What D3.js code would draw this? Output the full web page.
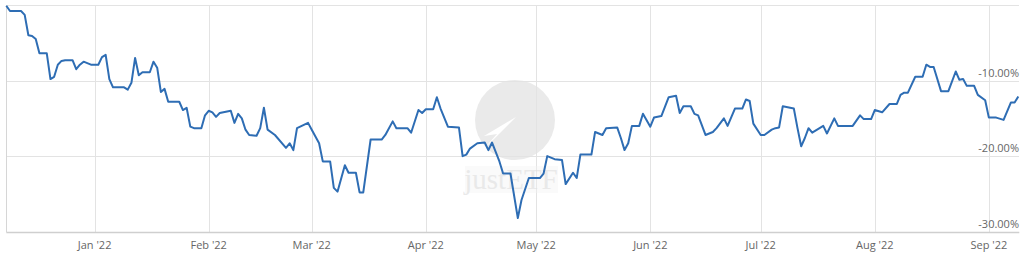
<!DOCTYPE html>
<html lang="en">
<head>
  <meta charset="utf-8">
  <title>Performance chart</title>
  <style>
  body { margin: 0; background: #fff; }
  svg { display: block; font-family: "Open Sans", sans-serif; }
  .grid line { stroke: #e3e3e3; stroke-width: 1; shape-rendering: crispEdges; }
  .axis text { fill: #666; font-size: 11px; }
  .line { fill: none; stroke: #2e6db4; stroke-width: 2; stroke-linejoin: round; }
  </style>
  <script src="https://cdn.jsdelivr.net/npm/d3@7"></script>
</head>
<body>
<svg width="1024" height="262"></svg>
<script>
// dates of the line vertices and the matching returns in %
var dates = [
  "2021-12-08","2021-12-09","2021-12-12","2021-12-13","2021-12-14","2021-12-15","2021-12-16","2021-12-17",
  "2021-12-19","2021-12-20","2021-12-21","2021-12-22","2021-12-23","2021-12-24","2021-12-26","2021-12-27",
  "2021-12-28","2021-12-29","2021-12-30","2021-12-31","2022-01-02","2022-01-03","2022-01-04","2022-01-05",
  "2022-01-06","2022-01-09","2022-01-10","2022-01-11","2022-01-12","2022-01-13","2022-01-14","2022-01-16",
  "2022-01-17","2022-01-18","2022-01-19","2022-01-20","2022-01-21","2022-01-24","2022-01-25","2022-01-26",
  "2022-01-27","2022-01-28","2022-01-30","2022-01-31","2022-02-01","2022-02-02","2022-02-03","2022-02-04",
  "2022-02-07","2022-02-08","2022-02-09","2022-02-10","2022-02-11","2022-02-12","2022-02-14","2022-02-15",
  "2022-02-16","2022-02-17","2022-02-19","2022-02-22","2022-02-23","2022-02-24","2022-02-25","2022-02-28",
  "2022-03-01","2022-03-03","2022-03-04","2022-03-06","2022-03-07","2022-03-08","2022-03-10","2022-03-11",
  "2022-03-13","2022-03-14","2022-03-15","2022-03-17","2022-03-20","2022-03-21","2022-03-23","2022-03-24",
  "2022-03-27","2022-03-28","2022-03-30","2022-03-31","2022-04-01","2022-04-03","2022-04-04","2022-04-05",
  "2022-04-07","2022-04-10","2022-04-11","2022-04-12","2022-04-13","2022-04-15","2022-04-17","2022-04-18",
  "2022-04-19","2022-04-21","2022-04-22","2022-04-24","2022-04-26","2022-04-27","2022-04-29","2022-05-02",
  "2022-05-03","2022-05-04","2022-05-06","2022-05-08","2022-05-09","2022-05-11","2022-05-12","2022-05-13",
  "2022-05-16","2022-05-17","2022-05-19","2022-05-20","2022-05-23","2022-05-24","2022-05-25","2022-05-26",
  "2022-05-27","2022-05-29","2022-05-30","2022-06-01","2022-06-02","2022-06-04","2022-06-06","2022-06-08",
  "2022-06-09","2022-06-10","2022-06-12","2022-06-13","2022-06-14","2022-06-16","2022-06-18","2022-06-19",
  "2022-06-21","2022-06-22","2022-06-24","2022-06-26","2022-06-27","2022-06-28","2022-06-29","2022-07-01",
  "2022-07-02","2022-07-04","2022-07-05","2022-07-06","2022-07-07","2022-07-08","2022-07-10","2022-07-11",
  "2022-07-12","2022-07-13","2022-07-14","2022-07-15","2022-07-18","2022-07-19","2022-07-21","2022-07-22",
  "2022-07-26","2022-07-28","2022-07-29","2022-07-31","2022-08-01","2022-08-03","2022-08-05","2022-08-07",
  "2022-08-08","2022-08-09","2022-08-10","2022-08-12","2022-08-14","2022-08-15","2022-08-16","2022-08-17",
  "2022-08-19","2022-08-21","2022-08-23","2022-08-24","2022-08-25","2022-08-26","2022-08-28","2022-08-29",
  "2022-08-31","2022-09-01","2022-09-03","2022-09-05","2022-09-07","2022-09-08","2022-09-09"
];

var returns = [
  -0.1,-0.8,-0.8,-1.3,-4.0,-4.1,-4.5,-6.4,
  -6.4,-9.8,-9.5,-7.9,-7.4,-7.3,-7.3,-8.5,
  -7.9,-7.5,-7.7,-7.9,-7.9,-6.9,-6.6,-9.8,
  -10.9,-10.9,-11.2,-10.3,-7.0,-9.3,-8.9,-8.9,
  -7.5,-8.3,-11.5,-11.1,-12.8,-12.8,-13.9,-13.6,
  -16.1,-16.3,-16.3,-14.6,-14.0,-14.2,-14.8,-14.3,
  -14.0,-15.6,-14.4,-15.0,-16.5,-17.2,-17.3,-16.3,
  -13.6,-16.5,-17.2,-18.9,-18.3,-19.2,-16.3,-15.6,
  -16.5,-18.3,-20.7,-20.7,-24.2,-24.7,-21.2,-22.2,
  -22.2,-24.8,-24.8,-17.8,-17.8,-17.2,-15.4,-16.3,
  -16.3,-16.9,-13.9,-14.3,-13.8,-13.8,-12.2,-13.7,
  -16.1,-16.2,-20.0,-19.8,-19.0,-18.3,-18.2,-19.2,
  -18.2,-20.7,-22.3,-22.3,-28.2,-25.8,-22.9,-22.9,
  -22.3,-20.0,-20.4,-20.5,-23.7,-22.2,-22.9,-19.8,
  -19.8,-16.8,-17.2,-16.3,-16.2,-17.6,-19.2,-18.3,
  -16.0,-16.0,-14.4,-16.1,-14.9,-14.7,-12.2,-12.0,
  -14.3,-13.4,-13.4,-14.4,-14.6,-17.2,-16.8,-16.3,
  -15.0,-16.0,-13.7,-13.7,-12.5,-12.7,-15.7,-17.2,
  -17.2,-16.5,-16.3,-16.2,-13.4,-13.5,-13.7,-16.3,
  -18.7,-17.6,-16.3,-16.9,-16.0,-17.0,-15.0,-16.0,
  -16.0,-14.6,-15.1,-15.1,-13.9,-14.2,-13.1,-13.1,
  -11.9,-11.6,-11.6,-9.5,-9.5,-7.9,-8.2,-8.2,
  -11.4,-11.4,-8.8,-9.9,-9.8,-10.7,-10.7,-11.9,
  -12.6,-14.9,-14.9,-15.2,-12.9,-12.9,-12.1
];

var monthTicks = ["2022-01-01","2022-02-01","2022-03-01","2022-04-01","2022-05-01","2022-06-01",
                  "2022-07-01","2022-08-01","2022-09-01"];
var gridValues = [0, -10, -20];
var yLabels = [-10, -20, -30];

var parse = d3.timeParse("%Y-%m-%d");
var data = dates.map(function(d, i) { return {date: parse(d), value: returns[i]}; });

var svg = d3.select("svg"),
    plot = {left: 6.3, right: 1018.3, top: 5, bottom: 231.7};

var x = d3.scaleTime()
    .domain([parse("2021-12-08"), parse("2022-09-09")])
    .range([plot.left, plot.right]);

var y = d3.scaleLinear()
    .domain([0, -30])
    .range([plot.top, plot.bottom]);

// grid
var grid = svg.append("g").attr("class", "grid");

grid.selectAll(".h")
  .data(gridValues)
  .enter().append("line")
    .attr("x1", plot.left).attr("x2", plot.right + 1)
    .attr("y1", function(d) { return Math.round(y(d)) + 0.5; })
    .attr("y2", function(d) { return Math.round(y(d)) + 0.5; });

grid.selectAll(".v")
  .data(monthTicks.map(parse))
  .enter().append("line")
    .attr("x1", function(d) { return Math.round(x(d)) + 0.5; })
    .attr("x2", function(d) { return Math.round(x(d)) + 0.5; })
    .attr("y1", plot.top).attr("y2", plot.bottom);

grid.append("line")
    .attr("x1", Math.round(plot.left) + 0.5).attr("x2", Math.round(plot.left) + 0.5)
    .attr("y1", plot.top).attr("y2", plot.bottom)
    .style("stroke", "#d6d6d6");

// watermark
var wm = svg.append("g").attr("opacity", 0.75);
wm.append("circle")
    .attr("cx", 515).attr("cy", 120).attr("r", 40)
    .attr("fill", "#e4e4e4");
wm.append("path")
    .attr("d", "M516,117 L484,136 L497,134 L481,152 Z")
    .attr("fill", "#fff");
wm.append("rect")
    .attr("x", 465).attr("y", 166).attr("width", 93).attr("height", 27)
    .attr("fill", "#f4f4f4").attr("opacity", 0.5);
wm.append("text")
    .attr("x", 511).attr("y", 189)
    .attr("text-anchor", "middle")
    .attr("font-family", "Liberation Serif, serif")
    .attr("font-size", 29)
    .attr("fill", "#e2e2e2")
    .text("justETF");

// bottom axis line
svg.append("line")
    .attr("x1", plot.left).attr("x2", plot.right + 1)
    .attr("y1", Math.round(plot.bottom) + 0.5).attr("y2", Math.round(plot.bottom) + 0.5)
    .attr("stroke", "#cfcfcf")
    .attr("stroke-width", 1.5);

// x labels
var xa = svg.append("g").attr("class", "axis");
xa.selectAll("text")
  .data(monthTicks.map(parse))
  .enter().append("text")
    .attr("x", function(d) { return x(d); })
    .attr("y", 249)
    .attr("text-anchor", "middle")
    .text(d3.timeFormat("%b '%y"));

// y labels, right aligned above the grid lines
var ya = svg.append("g").attr("class", "axis");
ya.selectAll("text")
  .data(yLabels)
  .enter().append("text")
    .attr("x", 1019)
    .attr("y", function(d) { return y(d) - 4; })
    .attr("text-anchor", "end")
    .text(function(d) { return d.toFixed(2) + "%"; });

// line
var line = d3.line()
    .x(function(d) { return x(d.date); })
    .y(function(d) { return y(d.value); });

svg.append("path")
    .datum(data)
    .attr("class", "line")
    .attr("d", line);
</script>
</body>
</html>
